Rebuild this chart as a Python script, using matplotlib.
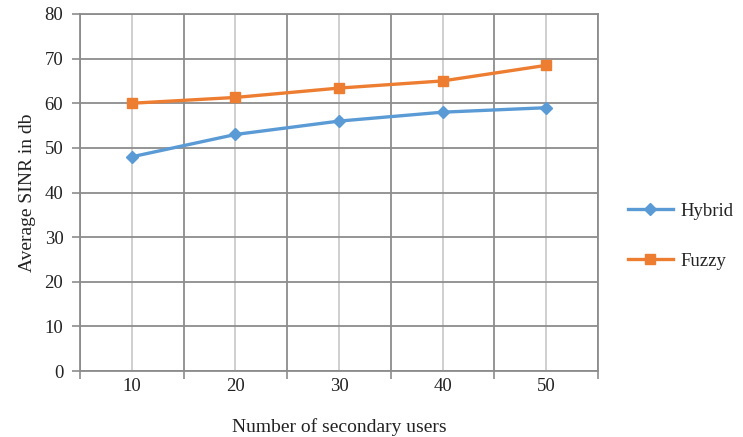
import matplotlib.pyplot as plt
import numpy as np

plt.rcParams['font.family'] = ['Liberation Serif', 'DejaVu Serif']

users = ['10', '20', '30', '40', '50']
hybrid = [48, 53, 56, 58, 59]
fuzzy = [60, 61.3, 63.4, 65, 68.5]

fig = plt.figure(figsize=(7.43, 4.37), dpi=100)
ax = fig.add_axes([80 / 743, 1 - 371 / 437, 518 / 743, 357 / 437])

x = np.arange(len(users))
ax.plot(x, hybrid, color='#5b9bd5', marker='D', markersize=6.5, linewidth=2.4, label='Hybrid', zorder=3)
ax.plot(x, fuzzy, color='#ed7d31', marker='s', markersize=7.5, linewidth=2.4, label='Fuzzy', zorder=3)

ax.set_xlim(-0.5, len(users) - 0.5)
ax.set_ylim(0, 80)

# category boundaries carry the dark grid and the tick marks
ax.set_xticks(np.arange(-0.5, len(users)))
ax.set_xticklabels([])
ax.set_xticks(x, minor=True)
ax.set_xticklabels(users, minor=True)
ax.tick_params(axis='x', which='major', length=6, width=1.2, color='#8c8c8c', direction='out')
ax.tick_params(axis='x', which='minor', length=0, pad=5, labelsize=13.5, labelcolor='#222222')
ax.set_yticks(np.arange(0, 81, 10))
ax.tick_params(axis='y', length=6, width=1.2, color='#8c8c8c', labelsize=13.5, pad=6,
               labelcolor='#222222')

ax.grid(axis='x', which='major', color='#8c8c8c', linewidth=1.3)
ax.grid(axis='x', which='minor', color='#cccccc', linewidth=1.3)
ax.grid(axis='y', which='major', color='#8c8c8c', linewidth=1.3)
ax.set_axisbelow(True)

for side in ['top', 'right', 'left', 'bottom']:
    ax.spines[side].set_color('#8c8c8c')
    ax.spines[side].set_linewidth(1.3)

ax.set_xlabel('Number of secondary users', fontsize=14, labelpad=17, color='#222222')
ax.set_ylabel('Average SINR in db', fontsize=14, labelpad=6, color='#222222')

fig.legend(loc='center left', bbox_to_anchor=(611 / 743, 1 - 236 / 437), frameon=False,
           fontsize=13.5, handlelength=2.4, labelspacing=1.75, handletextpad=0.4,
           labelcolor='#222222')

fig.savefig('out.png', dpi=100)
